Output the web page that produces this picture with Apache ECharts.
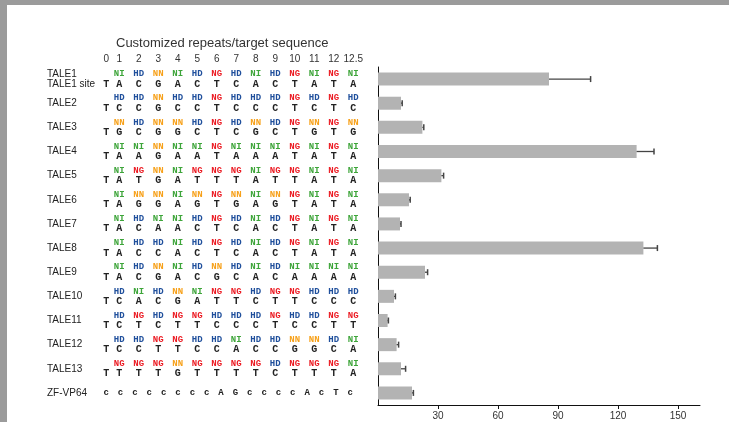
<!DOCTYPE html>
<html>
<head>
<meta charset="utf-8">
<script src="https://cdn.jsdelivr.net/npm/echarts@6/dist/echarts.min.js"></script>
<style>
html, body { margin: 0; padding: 0; background: #fff; }
#main { width: 729px; height: 422px; }
</style>
</head>
<body>
<div id="main"></div>
<script>
// rows, top to bottom
var rowNames = ['TALE1', 'TALE2', 'TALE3', 'TALE4', 'TALE5', 'TALE6', 'TALE7',
	'TALE8', 'TALE9', 'TALE10', 'TALE11', 'TALE12', 'TALE13', 'ZF-VP64'];
var colLabels = ['0', '1', '2', '3', '4', '5', '6', '7', '8', '9', '10', '11', '12', '12.5'];

// repeat variable diresidues of each TALE
var repeats = [
	'NI HD NN NI HD NG HD NI HD NG NI NG NI',
	'HD HD NN HD HD NG HD HD HD NG HD NG HD',
	'NN HD NN NN HD NG HD NN HD NG NN NG NN',
	'NI NI NN NI NI NG NI NI NI NG NI NG NI',
	'NI NG NN NI NG NG NG NI NG NG NI NG NI',
	'NI NN NN NI NN NG NN NI NN NG NI NG NI',
	'NI HD NI NI HD NG HD NI HD NG NI NG NI',
	'NI HD HD NI HD NG HD NI HD NG NI NG NI',
	'NI HD NN NI HD NN HD NI HD NI NI NI NI',
	'HD NI HD NN NI NG NG HD NG NG HD HD HD',
	'HD NG HD NG NG HD HD HD NG HD HD NG NG',
	'HD HD NG NG HD HD NI HD HD NN NN HD NI',
	'NG NG NG NN NG NG NG NG HD NG NG NG NI'
];
// target sites
var sites = [
	'TACGACTCACTATA', 'TCCGCCTCCCTCTC', 'TGCGGCTCGCTGTG', 'TAAGAATAAATATA',
	'TATGATTTATTATA', 'TAGGAGTGAGTATA', 'TACAACTCACTATA', 'TACCACTCACTATA',
	'TACGACGCACAAAA', 'TCACGATTCTTCCC', 'TCTCTTCCCTCCTT', 'TCCTTCCACCGGCA',
	'TTTTGTTTTCTTTA', 'ccccccccAGccccAcTc'
];

// reporter activity (fold) and error
var activity = [85.5, 11.5, 22.2, 129.3, 31.7, 15.5, 11, 132.7, 23.5, 8, 4.8, 9.3, 11.5, 17];
var activityErr = [20.8, 0.6, 0.7, 8.7, 1.1, 0.6, 0.5, 7, 1.3, 0.7, 0.4, 1, 2.3, 0.7];
var xTicks = [30, 60, 90, 120, 150];

var rvdColors = { NI: '#3ea53a', HD: '#1f4f9c', NN: '#f7a11a', NG: '#ec1c24' };

var myChart = echarts.init(document.getElementById('main'));

// one entry per text cell of the table
var cells = [];
repeats.forEach(function (r, row) {
	r.split(' ').forEach(function (t, i) {
		cells.push({ col: i + 1, row: row, text: t, kind: 'rvd' });
	});
});
sites.forEach(function (s, row) {
	for (var i = 0; i < s.length; i++) {
		cells.push({ col: i, row: row, text: s[i], kind: 'site', n: s.length });
	}
});

function renderCell(params, api) {
	var c = cells[params.dataIndex];
	var p = api.coord([c.col, c.row]);
	var x = p[0];
	var nCols = colLabels.length;
	var a = api.coord([0, c.row]), a1 = api.coord([1, c.row]), b = api.coord([nCols - 1, c.row]);
	// column "0" sits closer to column "1" in the figure
	var x0 = a[0] + (a1[0] - a[0]) * 0.33;
	if (c.col === 0) x = x0;
	if (c.n > nCols) {
		// ZF site is longer, spread it over the same width
		x = x0 + (b[0] - 3 - x0) * c.col / (c.n - 1);
	}
	var isRvd = c.kind === 'rvd';
	var isZf = c.n > nCols;
	return {
		type: 'text',
		x: x,
		y: p[1] + (isRvd ? -5 : (isZf ? 0 : 5)),
		style: {
			text: c.text,
			fill: isRvd ? rvdColors[c.text] : '#222',
			font: isRvd ? 'bold 9px "Liberation Mono"' : (isZf ? 'bold 9px "Liberation Mono"' : 'bold 10px "Liberation Mono"'),
			align: 'center',
			verticalAlign: 'middle'
		}
	};
}

function renderErr(params, api) {
	var row = api.value(0), v = api.value(1), e = api.value(2);
	var a = api.coord([v, row]), b = api.coord([v + e, row]);
	return {
		type: 'group',
		children: [
			{ type: 'line', shape: { x1: a[0], y1: a[1], x2: b[0], y2: b[1] },
				style: { stroke: '#444', lineWidth: 1.3 } },
			{ type: 'line', shape: { x1: b[0], y1: b[1] - 3, x2: b[0], y2: b[1] + 3 },
				style: { stroke: '#444', lineWidth: 1.5 } }
		]
	};
}

myChart.setOption({
	animation: false,
	backgroundColor: '#fff',
	title: {
		text: 'Customized repeats/target sequence',
		left: 116,
		top: 37,
		padding: 0,
		textStyle: { fontSize: 13, fontWeight: 'normal', color: '#333', fontFamily: 'Liberation Sans' }
	},
	graphic: [
		{ type: 'rect', left: 0, top: 0, shape: { width: 729, height: 5 }, style: { fill: '#9b9b9b' } },
		{ type: 'rect', left: 0, top: 0, shape: { width: 7, height: 422 }, style: { fill: '#9b9b9b' } }
	],
	grid: [
		{ left: 90, top: 67, width: 273, height: 338 },
		{ left: 378, top: 67, width: 322, height: 338 }
	],
	xAxis: [{
		gridIndex: 0,
		type: 'category',
		position: 'top',
		data: colLabels,
		axisLine: { show: false },
		axisTick: { show: false },
		axisLabel: {
			margin: 3, fontSize: 10, color: '#333', fontFamily: 'Liberation Sans', interval: 0,
			formatter: function (v, i) { return i === 0 ? '{first|' + v + '}' : v; },
			rich: { first: { fontSize: 10, color: '#333', fontFamily: 'Liberation Sans', padding: [0, 0, 0, 13] } }
		}
	}, {
		gridIndex: 1,
		type: 'value',
		min: 0,
		max: 161,
		axisLine: { show: true, lineStyle: { color: '#111', width: 1 } },
		axisTick: { show: true, customValues: xTicks, length: 4, lineStyle: { color: '#111' } },
		axisLabel: { customValues: xTicks, margin: 6, fontSize: 10, color: '#333', fontFamily: 'Liberation Sans' },
		splitLine: { show: false }
	}],
	yAxis: [{
		gridIndex: 0,
		type: 'category',
		inverse: true,
		data: rowNames,
		axisLine: { show: false },
		axisTick: { show: false },
		axisLabel: {
			align: 'left',
			margin: 43,
			fontSize: 10,
			lineHeight: 10.5,
			color: '#222',
			fontFamily: 'Liberation Sans',
			interval: 0,
			formatter: function (v, i) {
				return i === 0 ? v + '\n' + v + ' site' : v;
			}
		}
	}, {
		gridIndex: 1,
		type: 'category',
		inverse: true,
		data: rowNames,
		axisLine: { show: true, lineStyle: { color: '#111', width: 1 } },
		axisTick: { show: false },
		axisLabel: { show: false }
	}],
	series: [{
		type: 'custom',
		xAxisIndex: 0,
		yAxisIndex: 0,
		renderItem: renderCell,
		data: cells.map(function (c) { return [c.col, c.row]; }),
		encode: { x: 0, y: 1 }
	}, {
		type: 'bar',
		xAxisIndex: 1,
		yAxisIndex: 1,
		barWidth: 13,
		itemStyle: { color: '#b3b3b3' },
		data: activity
	}, {
		type: 'custom',
		xAxisIndex: 1,
		yAxisIndex: 1,
		z: 5,
		renderItem: renderErr,
		data: activity.map(function (v, i) { return [i, v, activityErr[i]]; }),
		encode: { y: 0, x: [1, 2] }
	}]
});
</script>
</body>
</html>
